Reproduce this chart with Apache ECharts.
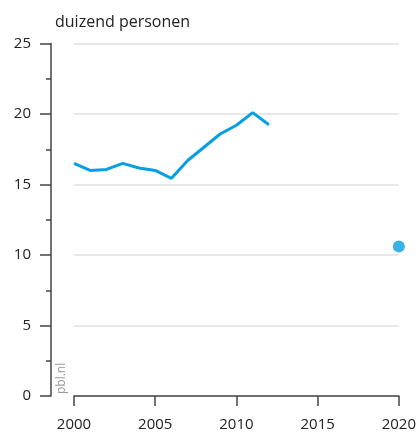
<!DOCTYPE html>
<html>
<head>
<meta charset="utf-8">
<script src="https://cdn.jsdelivr.net/npm/echarts@6/dist/echarts.min.js"></script>
<style>
  html, body { margin: 0; padding: 0; background: #fff; }
  #main { width: 419px; height: 432px; }
</style>
</head>
<body>
<div id="main"></div>
<script>
// historische reeks
const years = [2000, 2001, 2002, 2003, 2004, 2005, 2006, 2007, 2008, 2009, 2010, 2011, 2012];
const persons = [16.5, 16.0, 16.07, 16.5, 16.17, 16.0, 15.44, 16.7, 17.64, 18.58, 19.2, 20.1, 19.24];
// doel / raming
const targetYear = [2020];
const targetVal = [10.6];

const chart = echarts.init(document.getElementById('main'));
const font = 'Open Sans';
const blue = '#079fe0';

let option = {
  backgroundColor: '#fff',
  animation: false,
  title: {
    text: 'duizend personen',
    left: 50,
    top: 9,
    textStyle: { fontFamily: font, fontSize: 16, fontWeight: 'normal', color: '#222' }
  },
  grid: { left: 74, right: 20, top: 43.5, bottom: 35.5 },
  xAxis: {
    type: 'value',
    min: 2000,
    max: 2020,
    interval: 5,
    axisLine: { show: true, lineStyle: { color: '#444', width: 1.5 } },
    axisTick: { show: true, length: 10, lineStyle: { color: '#444', width: 1.5 } },
    axisLabel: { margin: 21, fontFamily: font, fontSize: 15, color: '#222', formatter: v => String(v) },
    splitLine: { show: false }
  },
  yAxis: {
    type: 'value',
    min: 0,
    max: 25,
    interval: 5,
    offset: 23,
    axisLine: { show: true, lineStyle: { color: '#444', width: 1.5 } },
    axisTick: { show: true, length: 11, lineStyle: { color: '#444', width: 1.5 } },
    minorTick: { show: true, splitNumber: 2, length: 5, lineStyle: { color: '#444', width: 1.5 } },
    axisLabel: { margin: 20, fontFamily: font, fontSize: 15, color: '#222' },
    splitLine: { show: true, lineStyle: { color: '#e0e0e0', width: 1.5 } }
  },
  graphic: [{
    type: 'text',
    x: 62,
    y: 394,
    rotation: Math.PI / 2,
    style: { text: 'pbl.nl', fontFamily: font, fontSize: 12, fill: '#999', textAlign: 'left', textVerticalAlign: 'middle' }
  }],
  series: [
    {
      type: 'line',
      data: years.map((y, i) => [y, persons[i]]),
      symbol: 'none',
      lineStyle: { color: blue, width: 3 },
      z: 3
    },
    {
      type: 'scatter',
      data: targetYear.map((y, i) => [y, targetVal[i]]),
      symbolSize: 12,
      itemStyle: { color: blue },
      z: 4
    }
  ]
};
chart.setOption(option);
</script>
</body>
</html>
